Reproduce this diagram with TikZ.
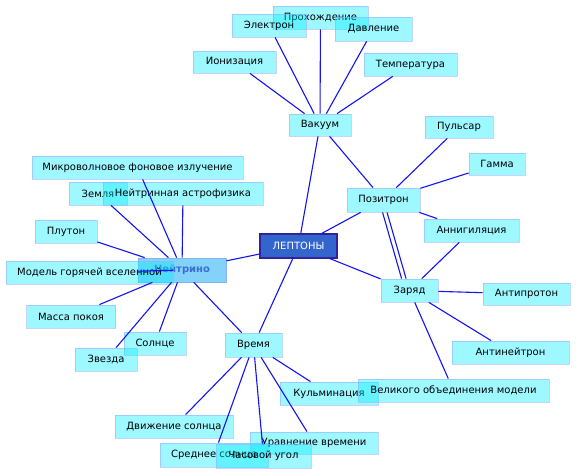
\documentclass[tikz,border=0pt]{standalone}
\usepackage{fontspec}
\setmainfont{DejaVu Sans}
\definecolor{boxfill}{RGB}{0,238,255}
\definecolor{boxline}{RGB}{150,175,255}
\definecolor{edgecol}{RGB}{20,20,240}
\definecolor{neifill}{RGB}{130,210,250}
\definecolor{neiline}{RGB}{140,175,240}
\definecolor{neitext}{RGB}{60,110,210}
\definecolor{lepfill}{RGB}{51,102,204}
\definecolor{lepline}{RGB}{51,34,153}
\tikzset{
  box/.style={rectangle, inner sep=0pt, fill=boxfill, fill opacity=0.38, text opacity=1,
    draw=boxline, draw opacity=0.55, line width=0.8pt, text=black,
    font=\fontsize{10}{12}\selectfont},
  neibox/.style={rectangle, inner sep=0pt, fill=neifill, draw=neiline, line width=0.8pt,
    text=neitext, font=\fontsize{10}{12}\selectfont\bfseries},
  lepbox/.style={rectangle, inner sep=0pt, fill=lepfill, draw=lepline, line width=1.2pt,
    text=white, font=\fontsize{10}{12}\selectfont},
  edge/.style={draw=edgecol, line width=1.1pt},
  sz/.style 2 args={minimum width=#1pt, minimum height=#2pt}
}
\begin{document}
\begin{tikzpicture}[x=1pt,y=-1pt]
\useasboundingbox[fill=white] (0,0) rectangle (576,474);
% nodes
\node[box,sz={95}{23}] (pro) at (320.5,17.5) {Прохождение};
\node[box,sz={74}{23}] (ele) at (269,25.5) {Электрон};
\node[box,sz={77}{24}] (dav) at (373.5,29) {Давление};
\node[box,sz={83}{22}] (ion) at (234.5,62) {Ионизация};
\node[box,sz={93}{23}] (tem) at (410.5,64.5) {Температура};
\node[box,sz={62}{22}] (vak) at (320,125) {Вакуум};
\node[box,sz={68}{22}] (pul) at (459,127) {Пульсар};
\node[box,sz={56}{22}] (gam) at (497,164) {Гамма};
\node[box,sz={73}{24}] (poz) at (383.5,200) {Позитрон};
\node[box,sz={95}{23}] (ann) at (471.5,230.5) {Аннигиляция};
\node[lepbox,sz={77}{24}] (lep) at (298.5,246) {ЛЕПТОНЫ};
\node[box,sz={57}{23}] (zar) at (409.5,290.5) {Заряд};
\node[box,sz={87}{22}] (apr) at (526.5,294) {Антипротон};
\node[box,sz={117}{23}] (ane) at (510.5,352.5) {Антинейтрон};
\node[box,sz={98}{23}] (kul) at (329,393.5) {Кульминация};
\node[box,sz={191}{23}] (vel) at (453.5,390.5) {Великого объединения модели};
\node[box,sz={118}{23}] (dvi) at (174,426.5) {Движение солнца};
\node[box,sz={108}{24}] (sre) at (214,455) {Среднее солнце};
\node[box,sz={128}{22}] (ura) at (314,443) {Уравнение времени};
\node[box,sz={95}{24}] (cha) at (263.5,456) {Часовой угол};
\node[box,sz={57}{24}] (vre) at (253.5,345) {Время};
\node[box,sz={62}{23}] (sol) at (155,343.5) {Солнце};
\node[box,sz={62}{23}] (zve) at (106,359.5) {Звезда};
\node[box,sz={89}{23}] (mas) at (71,316.5) {Масса покоя};
\node[neibox,sz={88}{24}] (nei) at (182,270) {Нейтрино};
\node[box,sz={167}{23}] (mod) at (89.5,272.5) {Модель горячей вселенной};
\node[box,sz={62}{23}] (plu) at (66,231.5) {Плутон};
\node[box,sz={58}{23}] (zem) at (98,193.5) {Земля};
\node[box,sz={160}{23}] (nas) at (183,193.5) {Нейтринная астрофизика};
\node[box,sz={211}{23}] (mik) at (137.5,167.5) {Микроволновое фоновое излучение};
% edges
\foreach \t in {ion,ele,pro,dav,tem,poz,lep} \draw[edge] (vak) -- (\t);
\foreach \t in {pul,gam,ann,lep,zar} \draw[edge] (poz) -- (\t);
\draw[edge, transform canvas={xshift=-4.5pt}] (poz) -- (zar);
\foreach \t in {ann,lep,apr,ane,vel} \draw[edge] (zar) -- (\t);
\foreach \t in {lep,mik,zem,nas,plu,mod,mas,sol,zve,vre} \draw[edge] (nei) -- (\t);
\foreach \t in {lep,kul,dvi,sre,cha,ura} \draw[edge] (vre) -- (\t);
\end{tikzpicture}
\end{document}
